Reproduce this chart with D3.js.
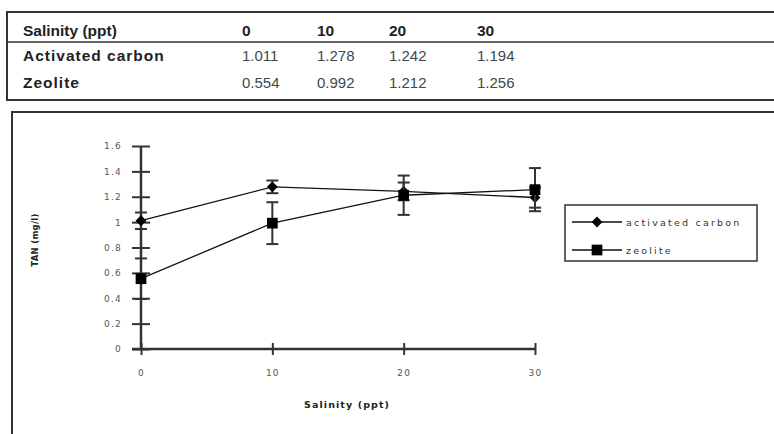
<!DOCTYPE html>
<html>
<head>
<meta charset="utf-8">
<script src="https://cdn.jsdelivr.net/npm/d3@7"></script>
<style>
  body { margin: 0; background: #fff; }
  svg { display: block; font-family: "Liberation Sans", Arial, sans-serif; }
  .small { font-family: "DejaVu Sans", sans-serif; }
</style>
</head>
<body>
<div id="chart"></div>
<script>
/* TAN vs salinity: table + line chart with error bars */

const salinity = [0, 10, 20, 30];
const activatedCarbon = [1.011, 1.278, 1.242, 1.194];
const zeolite = [0.554, 0.992, 1.212, 1.256];
const acError = [0.065, 0.05, 0.07, 0.08];
const zeoError = [0.16, 0.165, 0.155, 0.17];
const yTicks = [0, 0.2, 0.4, 0.6, 0.8, 1, 1.2, 1.4, 1.6];
const seriesNames = ["activated carbon", "zeolite"];
const rowNames = ["Activated carbon", "Zeolite"];

const width = 774, height = 434;

const svg = d3.select("#chart")
    .append("svg")
    .attr("width", width)
    .attr("height", height);

// ---- table on top ----
const table = svg.append("g");

table.append("rect")
    .attr("x", 7).attr("y", 12)
    .attr("width", 780).attr("height", 88)
    .attr("fill", "none")
    .attr("stroke", "#333")
    .attr("stroke-width", 2);

table.append("line")
    .attr("x1", 7).attr("x2", 780)
    .attr("y1", 42).attr("y2", 42)
    .attr("stroke", "#333")
    .attr("stroke-width", 1.5);

// columns are not perfectly even in the picture
const colPos = [242, 317, 389, 477];

table.append("text")
    .attr("x", 23).attr("y", 36)
    .attr("font-size", 15.5).attr("font-weight", "bold").attr("fill", "#222")
    .text("Salinity (ppt)");

table.selectAll(".hdr")
    .data(salinity)
    .join("text")
    .attr("class", "hdr")
    .attr("x", (d, i) => colPos[i]).attr("y", 36)
    .attr("font-size", 15.5).attr("font-weight", "bold").attr("fill", "#222")
    .text(d => d);

[activatedCarbon, zeolite].forEach((vals, r) => {
    const yy = 61 + r * 27;
    table.append("text")
        .attr("x", 23).attr("y", yy)
        .attr("font-size", 15.5).attr("font-weight", "bold").attr("fill", "#222")
        .attr("letter-spacing", 1)
        .text(rowNames[r]);
    table.selectAll(".val" + r)
        .data(vals)
        .join("text")
        .attr("class", "val" + r)
        .attr("x", (d, i) => colPos[i]).attr("y", yy)
        .attr("font-size", 15).attr("fill", "#3d4a4a")
        .text(d => d.toFixed(3));
});

// ---- chart frame ----
svg.append("rect")
    .attr("x", 12).attr("y", 112)
    .attr("width", 800).attr("height", 400)
    .attr("fill", "none")
    .attr("stroke", "#333")
    .attr("stroke-width", 2);

let x = d3.scaleLinear()
    .domain([0, 30])
    .range([141, 535]);

let y = d3.scaleLinear()
    .domain([0, 1.6])
    .range([349, 146]);

// y axis
const yAxis = svg.append("g")
    .attr("transform", `translate(${x(0)},0)`)
    .call(d3.axisLeft(y).tickValues(yTicks).tickSize(9).tickPadding(10)
        .tickFormat(d => d3.format("")(+d.toFixed(1))));
yAxis.select(".domain").attr("stroke", "#333").attr("stroke-width", 2.5)
    .attr("d", `M0,${y(0)}V${y(1.6)}`);
yAxis.selectAll(".tick line").attr("x1", -9).attr("x2", 9)
    .attr("stroke", "#333").attr("stroke-width", 2);
yAxis.selectAll(".tick text")
    .attr("class", "small")
    .attr("font-size", 9).attr("fill", "#555")
    .attr("letter-spacing", 1.2);

// x axis
const xAxis = svg.append("g")
    .attr("transform", `translate(0,${y(0)})`)
    .call(d3.axisBottom(x).tickValues(salinity).tickSize(6).tickPadding(15));
xAxis.select(".domain").attr("stroke", "#333").attr("stroke-width", 2.5)
    .attr("d", `M${x(0) - 9},0H${x(30)}`);
xAxis.selectAll(".tick line").attr("y1", -6).attr("y2", 6)
    .attr("stroke", "#333").attr("stroke-width", 2);
xAxis.selectAll(".tick text")
    .attr("class", "small")
    .attr("font-size", 9).attr("fill", "#555")
    .attr("letter-spacing", 1.2);

// axis titles
svg.append("text")
    .attr("class", "small")
    .attr("x", 347).attr("y", 408)
    .attr("text-anchor", "middle")
    .attr("font-size", 9.5).attr("font-weight", "bold").attr("fill", "#222")
    .attr("letter-spacing", 1.1)
    .text("Salinity (ppt)");

svg.append("text")
    .attr("class", "small")
    .attr("transform", "translate(38,240) rotate(-90)")
    .attr("text-anchor", "middle")
    .attr("font-size", 8.5).attr("font-weight", "bold").attr("fill", "#222")
    .attr("letter-spacing", 0.3)
    .text("TAN (mg/l)");

// ---- series ----
const series = [
    { name: seriesNames[0], values: activatedCarbon, err: acError, shape: d3.symbolDiamond2, size: 75 },
    { name: seriesNames[1], values: zeolite, err: zeoError, shape: d3.symbolSquare, size: 115 }
];

const line = d3.line()
    .x((d, i) => x(salinity[i]))
    .y(d => y(d));

series.forEach(s => {
    const g = svg.append("g");
    // error bars
    s.values.forEach((v, i) => {
        const cx = x(salinity[i]);
        g.append("line")
            .attr("x1", cx).attr("x2", cx)
            .attr("y1", y(v - s.err[i])).attr("y2", y(v + s.err[i]))
            .attr("stroke", "#333").attr("stroke-width", 2);
        [v - s.err[i], v + s.err[i]].forEach(e => {
            g.append("line")
                .attr("x1", cx - 6).attr("x2", cx + 6)
                .attr("y1", y(e)).attr("y2", y(e))
                .attr("stroke", "#333").attr("stroke-width", 2);
        });
    });
    g.append("path")
        .datum(s.values)
        .attr("d", line)
        .attr("fill", "none")
        .attr("stroke", "#111")
        .attr("stroke-width", 1.3);
    g.selectAll(".pt")
        .data(s.values)
        .join("path")
        .attr("transform", (d, i) => `translate(${x(salinity[i])},${y(d)})`)
        .attr("d", d3.symbol().type(s.shape).size(s.size))
        .attr("fill", "#000");
});

// ---- legend ----
const legend = svg.append("g");
legend.append("rect")
    .attr("x", 565).attr("y", 205)
    .attr("width", 192).attr("height", 56)
    .attr("fill", "#fff")
    .attr("stroke", "#333")
    .attr("stroke-width", 1.5);

series.forEach((s, i) => {
    const ly = 222 + i * 28;
    legend.append("line")
        .attr("x1", 572).attr("x2", 622)
        .attr("y1", ly).attr("y2", ly)
        .attr("stroke", "#111").attr("stroke-width", 1.3);
    legend.append("path")
        .attr("transform", `translate(597,${ly})`)
        .attr("d", d3.symbol().type(s.shape).size(s.size))
        .attr("fill", "#000");
    legend.append("text")
        .attr("class", "small")
        .attr("x", 626).attr("y", ly + 3.5)
        .attr("font-size", 9.5).attr("fill", "#333")
        .attr("letter-spacing", 2.2)
        .text(s.name);
});
</script>
</body>
</html>
